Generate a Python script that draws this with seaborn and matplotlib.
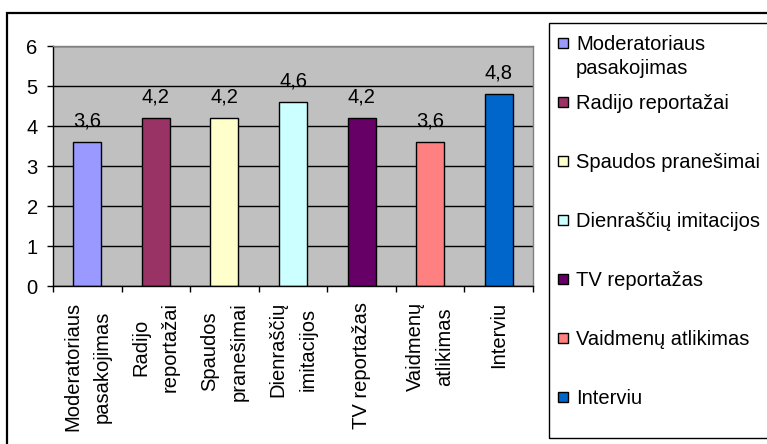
import matplotlib
matplotlib.use("Agg")
import matplotlib.pyplot as plt
from matplotlib.patches import Rectangle
import seaborn as sns
import pandas as pd

categories = ["Moderatoriaus\npasakojimas", "Radijo\nreportažai", "Spaudos\npranešimai",
              "Dienraščių\nimitacijos", "TV reportažas", "Vaidmenų\natlikimas", "Interviu"]
legend_labels = ["Moderatoriaus\npasakojimas", "Radijo reportažai", "Spaudos pranešimai",
                 "Dienraščių imitacijos", "TV reportažas", "Vaidmenų atlikimas", "Interviu"]
values = [3.6, 4.2, 4.2, 4.6, 4.2, 3.6, 4.8]
colors = ["#9999FF", "#993366", "#FFFFCC", "#CCFFFF", "#660066", "#FF8080", "#0066CC"]
yticks = [0, 1, 2, 3, 4, 5, 6]

sns.set_theme(style="white")
plt.rcParams["font.family"] = ["Liberation Sans", "DejaVu Sans"]
plt.rcParams["text.color"] = "black"
plt.rcParams["xtick.color"] = "black"
plt.rcParams["ytick.color"] = "black"
plt.rcParams["axes.labelcolor"] = "black"
FS = 14.5

W, H = 767, 444
fig = plt.figure(figsize=(W / 100, H / 100), dpi=100)

def fx(px):
    return px / W

def fy(py):
    return 1 - py / H

# outer chart border (extends past right/bottom edge)
fig.patches.append(Rectangle((fx(7), fy(460)), fx(800), (460 - 13) / H,
                             transform=fig.transFigure, fill=False, edgecolor="black",
                             linewidth=1.6))

ax = fig.add_axes([fx(53), fy(286), fx(533 - 53), (286 - 46) / H])
df = pd.DataFrame({"cat": categories, "val": values})
sns.barplot(data=df, x="cat", y="val", hue="cat", palette=colors, legend=False,
            width=0.41, edgecolor="black", linewidth=1.0, ax=ax, saturation=1)

ax.set_facecolor("#C0C0C0")
ax.set_ylim(0, 6)
ax.set_xlim(-0.5, len(categories) - 0.5)
ax.set_yticks(yticks)
ax.set_yticklabels([str(t) for t in yticks], fontsize=FS)
ax.yaxis.grid(True, color="black", linewidth=1.0)
ax.set_axisbelow(True)
ax.set_xlabel("")
ax.set_ylabel("")

for side in ["top", "right"]:
    ax.spines[side].set_color("#808080")
    ax.spines[side].set_linewidth(1.0)
for side in ["left", "bottom"]:
    ax.spines[side].set_color("black")
    ax.spines[side].set_linewidth(1.0)

ax.tick_params(axis="y", direction="out", length=4, width=1, color="black", pad=7,
               left=True, labelcolor="black")
# x ticks at category boundaries
ax.set_xticks([i - 0.5 for i in range(len(categories) + 1)], minor=False)
ax.set_xticklabels([""] * (len(categories) + 1))
ax.tick_params(axis="x", which="major", direction="out", length=4, width=1,
               color="black", bottom=True)
ax.set_xticks(range(len(categories)), minor=True)
ax.set_xticklabels(categories, minor=True, rotation=90, ha="center", va="top",
                   multialignment="center", fontsize=FS, color="black",
                   linespacing=1.7)
ax.tick_params(axis="x", which="minor", length=0, pad=11.5)

for cont in ax.containers:
    ax.bar_label(cont, labels=[f"{v:.1f}".replace(".", ",") for v in cont.datavalues],
                 padding=8, fontsize=FS, color="black")

# legend box
fig.patches.append(Rectangle((fx(549), fy(438)), fx(300), (438 - 23) / H,
                             transform=fig.transFigure, fill=False, edgecolor="black",
                             linewidth=1.0))
for i, (lab, col) in enumerate(zip(legend_labels, colors)):
    yc = 43 + i * 59
    fig.patches.append(Rectangle((fx(558), fy(yc + 5)), fx(10), 10 / H,
                                 transform=fig.transFigure, facecolor=col,
                                 edgecolor="black", linewidth=1.0))
    fig.text(fx(576), fy(yc - 8), lab, fontsize=FS, ha="left", va="top",
             color="black", linespacing=1.3)

fig.savefig("out.png", dpi=100)
